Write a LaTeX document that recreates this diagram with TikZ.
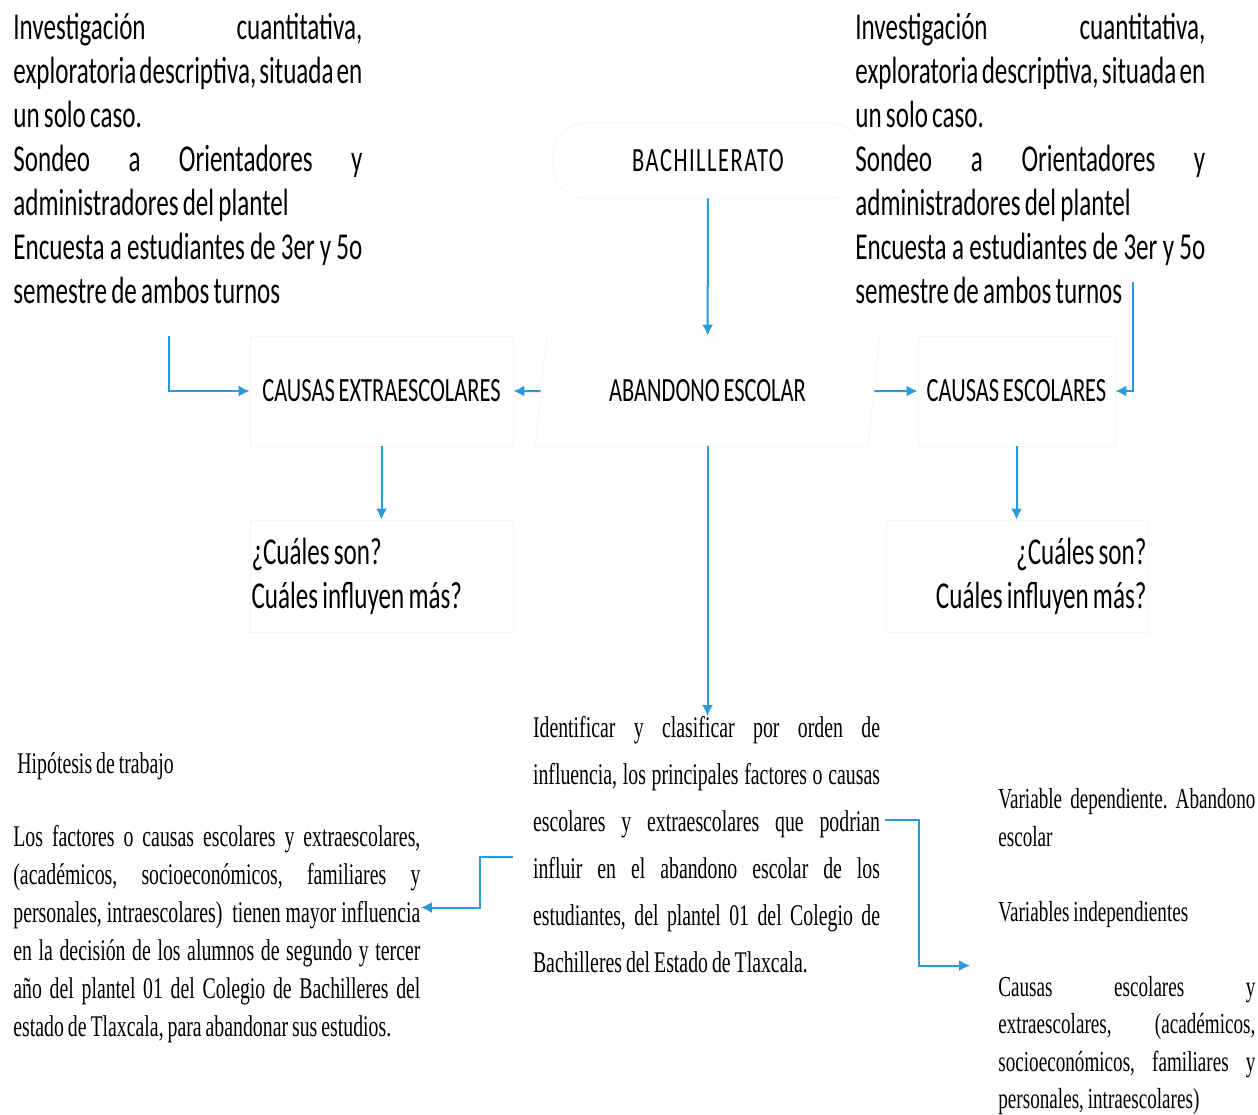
\documentclass[tikz,border=0pt]{standalone}
\usepackage{fontspec}
\setmainfont{Liberation Serif}
\newfontfamily\calibri[FakeStretch=0.66,WordSpace=0.75]{Carlito}
\newfontfamily\romana[FakeStretch=0.66,WordSpace=0.8]{Liberation Serif}
\usetikzlibrary{shapes.geometric,arrows.meta}
\setlength{\parindent}{0pt}
\tolerance=10000 \hbadness=10000
\frenchspacing

\definecolor{azul}{RGB}{41,155,215}
\colorlet{tenue}{black!4}

\tikzset{
  caja/.style={draw=tenue, minimum height=55pt, inner sep=0pt,
    font=\calibri\fontsize{17}{22}\selectfont},
  texto/.style={inner sep=0pt, align=justify},
  sans/.style={font=\calibri\fontsize{19}{22}\selectfont},
  flecha/.style={draw=azul, line width=1pt, -{Latex[length=5.5pt,width=5.5pt]}},
}

\begin{document}
\begin{tikzpicture}[x=0.5pt,y=-0.5pt]
\useasboundingbox (0,0) rectangle (1258,1114);
\node[caja, rounded corners=16pt, minimum width=155pt, minimum height=37.5pt,
  font=\calibri\fontsize{17}{22}\selectfont\addfontfeature{LetterSpace=4.5}] (bach) at (708,160.5) {BACHILLERATO};
\node[texto, sans, anchor=north west, text width=174.5pt] (metizq) at (13,13)
  {Investigación cuantitativa,\linebreak exploratoria descriptiva, situada en\linebreak un solo caso.\par
   Sondeo a Orientadores y\linebreak administradores del plantel\par
   Encuesta a estudiantes de 3er y 5o\linebreak semestre de ambos turnos};
\node[texto, sans, anchor=north west, text width=175pt, fill=white] (metder) at (855,13)
  {Investigación cuantitativa,\linebreak exploratoria descriptiva, situada en\linebreak un solo caso.\par
   Sondeo a Orientadores y\linebreak administradores del plantel\par
   Encuesta a estudiantes de 3er y 5o\linebreak semestre de ambos turnos};
\node[caja, trapezium, trapezium left angle=72, trapezium right angle=108,
  trapezium stretches=true, minimum width=172.5pt] (aband) at (707.5,391) {ABANDONO ESCOLAR};
\node[caja, minimum width=131.5pt] (extra) at (381.5,391) {CAUSAS EXTRAESCOLARES};
\node[caja, minimum width=98.5pt] (escol) at (1016.5,391) {CAUSAS ESCOLARES};
\node[caja, sans, minimum width=131.5pt, minimum height=56pt, text width=130pt, align=flush left] (qextra) at (381.5,576)
  {¿Cuáles son?\\Cuáles influyen más?};
\node[caja, sans, minimum width=131pt, minimum height=56pt, text width=129.5pt, align=flush right] (qescol) at (1017,576)
  {¿Cuáles son?\\Cuáles influyen más?};
\node[texto, anchor=north, text width=173.5pt, font=\romana\fontsize{15}{23.5}\selectfont] (objet) at (706.5,716)
  {Identificar y clasificar por orden de\linebreak influencia, los principales factores o causas\linebreak
   escolares y extraescolares que podrian\linebreak influir en el abandono escolar de los\linebreak
   estudiantes, del plantel 01 del Colegio de\linebreak Bachilleres del Estado de Tlaxcala.};
\node[texto, anchor=north west, text width=203.5pt, font=\romana\fontsize{15}{19}\selectfont] (hipot) at (13,752)
  {\hspace*{2pt}Hipótesis de trabajo\par\vspace{-1.5pt}\mbox{}\par
   Los factores o causas escolares y extraescolares,\linebreak (académicos, socioeconómicos, familiares y\linebreak
   personales, intraescolares)\ \ tienen mayor influencia\linebreak en la decisión de los alumnos de segundo y tercer\linebreak
   año del plantel 01 del Colegio de Bachilleres del\linebreak estado de Tlaxcala, para abandonar sus estudios.};
\node[texto, anchor=north west, text width=128.5pt, font=\romana\fontsize{14.5}{18.75}\selectfont] (variab) at (998,788)
  {Variable dependiente. Abandono\linebreak escolar\par\mbox{}\par
   Variables independientes\par\mbox{}\par
   Causas escolares y\linebreak extraescolares, (académicos,\linebreak socioeconómicos, familiares y\linebreak
   personales, intraescolares)};
\coordinate (m1) at (169,336);
\coordinate (m2) at (1133,282);
\draw[flecha] (m1) |- (extra);
\draw[flecha] (m2) |- (escol);
\draw[flecha] (bach) -- (aband);
\draw[flecha] (aband) -- (extra);
\draw[flecha] (aband) -- (escol);
\draw[flecha] (extra) -- (qextra);
\draw[flecha] (escol.south) -- (escol.south |- qescol.north);
\draw[flecha] (aband.south) -- (aband.south |- objet.north);
\draw[flecha] ([shift={(-10pt,-6pt)}]objet.west) -- ++(-16.5pt,0pt) |- ([yshift=-5pt]hipot.east);
\draw[flecha] ([shift={(2.5pt,12.5pt)}]objet.east) -- ++(17pt,0pt) |- ([shift={(-14pt,-7pt)}]variab.west);
\end{tikzpicture}
\end{document}
